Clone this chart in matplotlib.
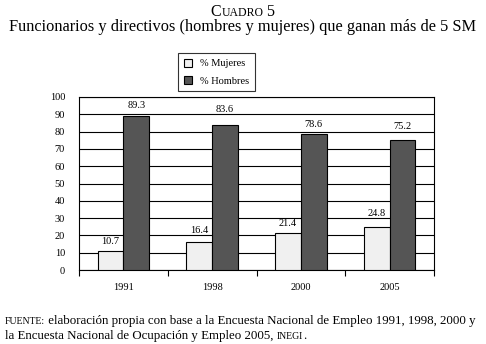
import matplotlib
matplotlib.use("Agg")
import matplotlib.pyplot as plt
import numpy as np
from matplotlib.patches import Patch

years = ["1991", "1998", "2000", "2005"]
mujeres = [10.7, 16.4, 21.4, 24.8]
hombres = [89.3, 83.6, 78.6, 75.2]
yticks = list(range(0, 101, 10))

plt.rcParams['font.family'] = ['Liberation Serif', 'DejaVu Serif']

W, H = 486, 344
fig = plt.figure(figsize=(W / 100, H / 100), dpi=100)
ax = fig.add_axes([79 / W, 1 - 270 / H, (434 - 79) / W, (270 - 97) / H])

x = np.arange(len(years))
bw = 0.29
light = "#f0f0f0"
dark = "#555555"
b1 = ax.bar(x - bw / 2, mujeres, bw, color=light, edgecolor="black", linewidth=0.8, zorder=3)
b2 = ax.bar(x + bw / 2, hombres, bw, color=dark, edgecolor="black", linewidth=0.8, zorder=3)


def label_center(v, off=5.5, half=2.7):
    c = v + off
    for g in yticks:
        if c - half < g < c + half:
            c = g + 2.8
            break
    return c


for rect, v in zip(list(b1) + list(b2), mujeres + hombres):
    ax.text(rect.get_x() + rect.get_width() / 2, label_center(v), f"{v:.1f}",
            ha="center", va="center", fontsize=7.5, zorder=4)

ax.set_xlim(-0.5, len(years) - 0.5)
ax.set_ylim(0, 100)
ax.set_yticks(yticks)
ax.set_yticklabels([str(t) for t in yticks], fontsize=7.5)
ax.tick_params(axis="y", length=0, pad=10)
ax.grid(axis="y", color="black", linewidth=0.8, zorder=1)
ax.set_xticks(np.arange(len(years) + 1) - 0.5)
ax.set_xticklabels([])
ax.set_xticks(x, minor=True)
ax.set_xticklabels(years, minor=True, fontsize=7.5)
ax.tick_params(axis="x", which="major", length=4, direction="out", width=0.8)
ax.tick_params(axis="x", which="minor", length=0, pad=9)
for s in ax.spines.values():
    s.set_linewidth(0.8)

handles = [Patch(facecolor=light, edgecolor="black", linewidth=0.8, label="% Mujeres"),
           Patch(facecolor=dark, edgecolor="black", linewidth=0.8, label="% Hombres")]
leg = fig.legend(handles=handles, loc="upper left", bbox_to_anchor=(178 / W, 1 - 53 / H),
                 fontsize=7.5, frameon=True, fancybox=False, edgecolor="black",
                 handlelength=0.8, handleheight=0.8, borderpad=0.55, labelspacing=0.75,
                 handletextpad=0.8, borderaxespad=0)
leg.get_frame().set_linewidth(0.8)

fig.canvas.draw()
r = fig.canvas.get_renderer()


def smallcaps(parts, xc, y, big, small, ha="center"):
    objs = []
    for txt, sc in parts:
        objs.append(fig.text(0, y, txt, fontsize=small if sc else big, va="baseline", ha="left"))
    widths = [o.get_window_extent(r).width for o in objs]
    total = sum(widths)
    x0 = xc - total / 2 if ha == "center" else xc
    for o, w in zip(objs, widths):
        o.set_x(x0 / W)
        x0 += w


smallcaps([("C", False), ("UADRO", True), (" 5", False)], W / 2, 1 - 16 / H, 11.5, 8.5)
fig.text(0.5, 1 - 31 / H, "Funcionarios y directivos (hombres y mujeres) que ganan más de 5 SM",
         ha="center", va="baseline", fontsize=11.8)

smallcaps([("FUENTE:", True), (" elaboración propia con base a la Encuesta Nacional de Empleo 1991, 1998, 2000 y", False)],
          5, 1 - 324 / H, 9.3, 7, ha="left")
smallcaps([("la Encuesta Nacional de Ocupación y Empleo 2005, ", False), ("INEGI", True), (".", False)],
          5, 1 - 339 / H, 9.3, 7, ha="left")

fig.savefig("out.png", dpi=100)
